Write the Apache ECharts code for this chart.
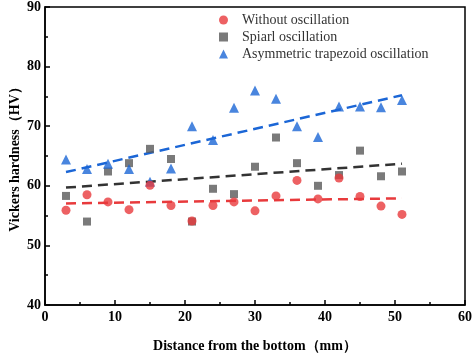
<!DOCTYPE html>
<html><head><meta charset="utf-8">
<script src="https://cdn.jsdelivr.net/npm/echarts@6/dist/echarts.min.js"></script>
<style>html,body{margin:0;padding:0;background:#fff}#c{width:474px;height:356px}</style>
</head><body><div id="c"></div>
<script>
const positions = [3,6,9,12,15,18,21,24,27,30,33,36,39,42,45,48,51];
const withoutOsc = [55.9,58.5,57.3,56.0,60.1,56.7,54.1,56.7,57.3,55.8,58.3,60.9,57.8,61.3,58.2,56.6,55.2];
const spiralOsc = [58.3,54.0,62.4,63.8,66.2,64.5,54.0,59.5,58.6,63.2,68.1,63.8,60.0,61.8,65.9,61.6,62.4];
const trapezoidOsc = [64.4,62.8,63.7,62.8,60.7,62.9,70.0,67.7,73.1,76.0,74.6,70.0,68.2,73.3,73.3,73.2,74.4];
const fitX = [3,51];
const fitWithout = [57.05,57.9];
const fitSpiral = [59.7,63.7];
const fitTrapezoid = [62.3,75.2];
const names = ['Without oscillation','Spiarl oscillation','Asymmetric trapezoid oscillation'];
const colors = ['#e83a3c','#595959','#1b66d6'];

const zip = (xs, ys) => xs.map((x,i)=>[x, ys[i]]);
const font = '"Liberation Serif","Times New Roman",serif';
const chart = echarts.init(document.getElementById('c'));
const scatter = (name, data, symbol, color, size) => ({
  name, type:'scatter', data: zip(positions, data), symbol, symbolSize: size,
  itemStyle:{color}, z:3
});
const fit = (data, color) => ({
  type:'line', data: zip(fitX, data), symbol:'none', silent:true,
  lineStyle:{color, width:2.5, type:[10,6]}, z:2
});
chart.setOption({
  animation:false,
  grid:{left:45, right:9, top:7, bottom:51, show:true, borderColor:'#000', borderWidth:1.5,
        containLabel:false, outerBoundsMode:'none'},
  legend:{
    data:names.map((n,i)=>({name:n, icon: i===0?'circle':(i===1?'rect':'triangle')})),
    orient:'vertical', left:214, top:8, itemGap:3, itemWidth:9, itemHeight:9,
    textStyle:{fontFamily:font, fontSize:14, color:'#333', padding:[0,0,0,9]}
  },
  xAxis:{
    type:'value', min:0, max:60, interval:10,
    name:'Distance from the bottom（mm）', nameLocation:'middle', nameGap:34, nameMoveOverlap:false,
    nameTextStyle:{fontFamily:font, fontSize:14, fontWeight:'bold', color:'#000'},
    axisLine:{show:true, onZero:false, lineStyle:{color:'#000', width:1.5}},
    axisTick:{inside:true, length:5, lineStyle:{color:'#000', width:1.5}},
    minorTick:{show:true, splitNumber:2, length:3, lineStyle:{color:'#000', width:1.5}},
    axisLabel:{fontFamily:font, fontSize:14, fontWeight:'bold', color:'#000', margin:5},
    splitLine:{show:false}
  },
  yAxis:{
    type:'value', min:40, max:90, interval:10,
    name:'Vickers hardness（HV）', nameLocation:'middle', nameGap:23, nameMoveOverlap:false,
    nameTextStyle:{fontFamily:font, fontSize:14, fontWeight:'bold', color:'#000'},
    axisLine:{show:true, lineStyle:{color:'#000', width:1.5}},
    axisTick:{inside:true, length:5, lineStyle:{color:'#000', width:1.5}},
    minorTick:{show:true, splitNumber:2, length:3, lineStyle:{color:'#000', width:1.5}},
    axisLabel:{fontFamily:font, fontSize:14, fontWeight:'bold', color:'#000', margin:4},
    splitLine:{show:false}
  },
  series:[
    fit(fitWithout, colors[0]),
    fit(fitSpiral, '#333'),
    fit(fitTrapezoid, colors[2]),
    scatter(names[1], spiralOsc, 'rect', colors[1], 8),
    scatter(names[2], trapezoidOsc, 'triangle', colors[2], 10),
    scatter(names[0], withoutOsc, 'circle', colors[0], 9)
  ]
});
</script></body></html>
